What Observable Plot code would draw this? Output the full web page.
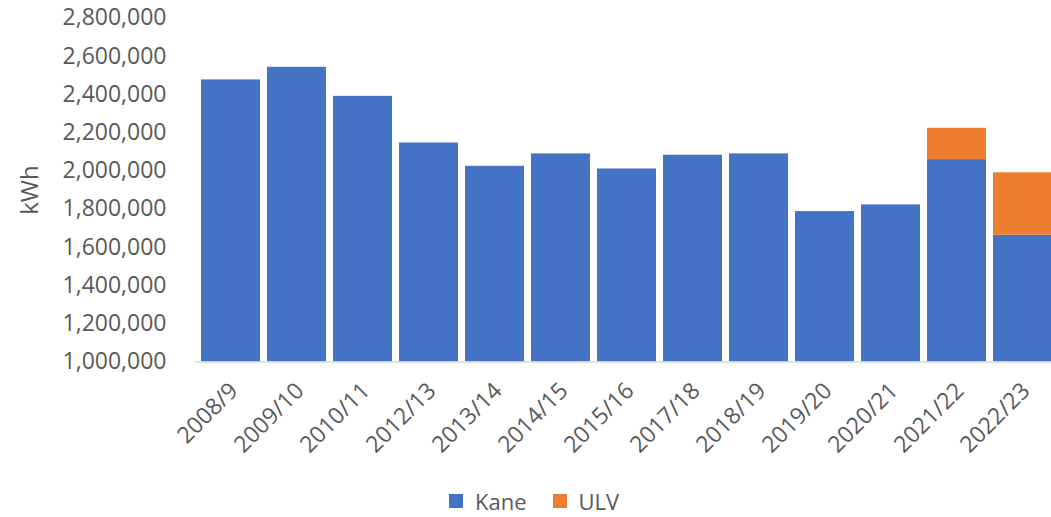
<!DOCTYPE html>
<html><head><meta charset="utf-8">
<script src="https://cdn.jsdelivr.net/npm/d3@7"></script>
<script src="https://cdn.jsdelivr.net/npm/@observablehq/plot@0.6"></script>
<style>
html,body{margin:0;padding:0;background:#fff;overflow:hidden;}
#chart{width:1051px;height:517px;position:relative;}
#legend{position:absolute;left:449px;top:490px;height:22px;display:flex;align-items:center;white-space:nowrap;
  font-family:'Open Sans',sans-serif;font-size:22px;color:#595959;line-height:22px;}
.item{display:flex;align-items:center;margin-right:26px;}
.sw{width:14px;height:14px;margin-right:12px;flex:none;}
</style></head><body><div id="chart"><div id="plot"></div><div id="legend"></div></div>
<script>
const years = ["2008/9","2009/10","2010/11","2012/13","2013/14","2014/15","2015/16","2017/18","2018/19","2019/20","2020/21","2021/22","2022/23"];
const kane = [2476000, 2542000, 2390000, 2146000, 2024000, 2089000, 2010000, 2082000, 2089000, 1787000, 1822000, 2059000, 1663000];
const ulv  = [0, 0, 0, 0, 0, 0, 0, 0, 0, 0, 0, 164000, 327000];
const seriesNames = ["Kane", "ULV"];
const seriesColors = ["#4472C4", "#ED7D31"];
const yTicks = [1000000, 1200000, 1400000, 1600000, 1800000, 2000000, 2200000, 2400000, 2600000, 2800000];
const yLabel = "kWh";

const rows = [];
years.forEach((y, i) => {
  rows.push({year: y, series: "Kane", value: kane[i]});
  if (ulv[i] > 0) rows.push({year: y, series: "ULV", value: ulv[i]});
});

const font = "'Open Sans', sans-serif";
const plot = Plot.plot({
  width: 1051, height: 480,
  marginLeft: 195, marginRight: 0, marginTop: 17.5, marginBottom: 118.5,
  style: {fontFamily: font, fontSize: "23px", color: "#595959", background: "white"},
  x: {domain: years, range: [195, 1059], paddingInner: 0.1, paddingOuter: 0.05, label: null},
  y: {domain: [1000000, 2800000], label: null},
  color: {domain: seriesNames, range: seriesColors},
  marks: [
    Plot.barY(rows, {x: "year", y: "value", fill: "series", order: seriesNames, clip: true}),
    Plot.ruleY([1000000], {stroke: "#d9d9d9", strokeWidth: 1.5}),
    Plot.axisY({ticks: yTicks, tickSize: 0, tickPadding: 29, tickFormat: d3.format(","), label: null}),
    Plot.axisX({tickSize: 0, tickRotate: -45, tickPadding: 25, dx: 3, label: null}),
    Plot.text([yLabel], {frameAnchor: "left", dx: -165, rotate: -90, textAnchor: "middle", fontSize: 24, fill: "#595959"})
  ]
});
document.getElementById("plot").appendChild(plot);

const colorScale = plot.scale("color");
const lg = d3.select("#legend");
colorScale.domain.forEach(name => {
  const it = lg.append("div").attr("class", "item");
  it.append("div").attr("class", "sw").style("background", colorScale.apply(name));
  it.append("span").text(name);
});
</script>
</body></html>
